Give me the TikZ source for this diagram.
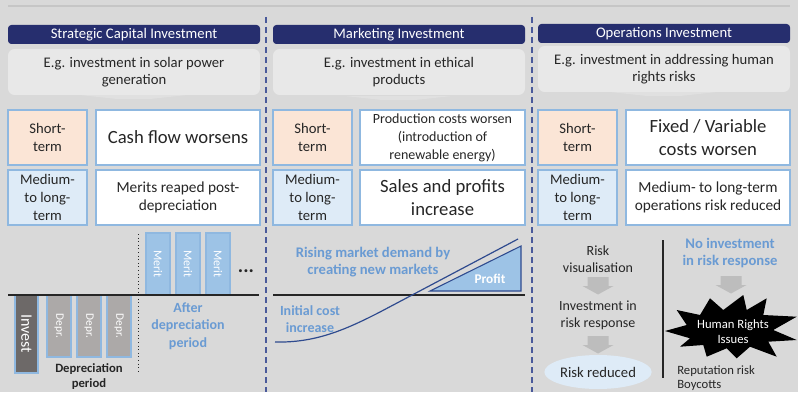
\documentclass[tikz,border=0pt]{standalone}
\usepackage{fontspec}
\setmainfont{Carlito}
\usetikzlibrary{shapes.geometric}
\definecolor{bg}{HTML}{D9D9D9}
\definecolor{navy}{HTML}{262E6E}
\definecolor{egfill}{HTML}{E8E8E8}
\definecolor{peach}{HTML}{FBE5D6}
\definecolor{paleblue}{HTML}{DEEBF7}
\definecolor{edgeblue}{HTML}{8FB8E0}
\definecolor{meritblue}{HTML}{9DC3E6}
\definecolor{labelblue}{HTML}{6A9BD3}
\definecolor{ink}{HTML}{262626}
\definecolor{darkbar}{HTML}{6D6968}
\definecolor{deprgray}{HTML}{ACA9A8}
\definecolor{curveblue}{HTML}{2F4B8F}
\definecolor{sepblue}{HTML}{4A5A9A}
\definecolor{arrowgray}{HTML}{BDBDBD}
\definecolor{rulegray}{HTML}{C6C6C6}
\definecolor{wedge}{HTML}{E0E0E0}
\tikzset{
  sz/.style 2 args={minimum width=#1*0.75pt, minimum height=#2*0.75pt},
  fs/.style 2 args={font=\fontsize{#1}{#2}\selectfont},
  fsb/.style 2 args={font=\fontsize{#1}{#2}\selectfont\bfseries},
  hdr/.style={fill=navy, rounded corners=2.5pt, text=white, fs={11}{12}, inner sep=0pt, outer sep=0pt},
  egbox/.style={fill=egfill, rounded corners=5pt, text=ink, align=center, fs={11}{12.75}, inner sep=0pt},
  termS/.style={fill=peach, draw=edgeblue, line width=1pt, align=center, text=ink, fs={11}{13.2}, inner sep=0pt},
  termM/.style={termS, fill=paleblue},
  effect/.style={fill=white, draw=edgeblue, line width=1pt, align=center, text=ink, inner sep=0pt},
  bar/.style={draw=edgeblue, line width=0.8pt, inner sep=0pt, text=white, rotate=-90},
  bluelabel/.style={text=labelblue, align=center, fsb={10.5}{13}, inner sep=0pt},
  plain/.style={text=ink, align=center, fs={10.5}{13}, inner sep=0pt},
  sep/.style={sepblue, line width=0.9pt, dash pattern=on 4.5pt off 3pt},
  % grey block arrow pointing down, drawn about its centre
  downarrow/.pic={\fill[arrowgray] (-10.5,-9) -- (10.5,-9) -- (10.5,0) -- (15.5,0)
      -- (0,8.5) -- (-15.5,0) -- (-10.5,0) -- cycle;},
}
\begin{document}
\begin{tikzpicture}[x=0.75pt, y=-0.75pt]
\useasboundingbox (0,0) rectangle (798,392);
\fill[bg] (0,0) rectangle (798,392);

% top rule and column separators
\draw[rulegray, line width=1.2pt] (8,6) -- (790,6);
\coordinate (s1t) at (266,17); \coordinate (s1b) at (266,392);
\coordinate (s2t) at (532,17); \coordinate (s2b) at (532,392);
\draw[sep] (s1t) -- (s1b);
\draw[sep] (s2t) -- (s2b);

% faint pointers under the example boxes
\fill[wedge] (80,95) -- (187,95) -- (150,99) -- (117,99) -- cycle;
\fill[wedge] (345,96) -- (452,96) -- (415,100) -- (382,100) -- cycle;
\fill[wedge] (610,92) -- (717,92) -- (680,96) -- (647,96) -- cycle;

% column headers
\node[hdr, sz={252}{19}] (h1) at (134,34.5) {Strategic Capital Investment};
\node[hdr, sz={252}{19}] (h2) at (399,34.5) {Marketing Investment};
\node[hdr, sz={252}{19}] (h3) at (664,33.5) {Operations Investment};

% examples
\node[egbox, sz={252}{46}] (e1) at (134,72) {E.g. investment in solar power\\generation};
\node[egbox, sz={252}{46}] (e2) at (399,72) {E.g. investment in ethical\\products};
\node[egbox, sz={252}{46}] (e3) at (664,69) {E.g. investment in addressing human\\rights risks};

% term tables
\node[termS, sz={79}{55}] (s1) at (47.5,137.5) {Short-\\term};
\node[termM, sz={79}{55}] (m1) at (47.5,197.5) {Medium-\\to long-\\term};
\node[effect, sz={164}{55}, fs={14}{17}] (f1) at (178,137.5) {Cash flow worsens};
\node[effect, sz={164}{55}, fs={11.5}{14}] (g1) at (178,197.5) {Merits reaped post-\\depreciation};

\node[termS, sz={79}{55}] (s2) at (312.5,137.5) {Short-\\term};
\node[termM, sz={79}{55}] (m2) at (312.5,197.5) {Medium-\\to long-\\term};
\node[effect, sz={165}{55}, fs={10.5}{13.5}] (f2) at (442.5,137.5) {Production costs worsen\\(introduction of\\renewable energy)};
\node[effect, sz={165}{55}, fs={14}{17}] (g2) at (442.5,197.5) {Sales and profits\\increase};

\node[termS, sz={79}{55}] (s3) at (577.5,137.5) {Short-\\term};
\node[termM, sz={79}{55}] (m3) at (577.5,197.5) {Medium-\\to long-\\term};
\node[effect, sz={164}{55}, fs={14}{17}] (f3) at (708,137.5) {Fixed / Variable\\costs worsen};
\node[effect, sz={164}{55}, fs={11.5}{13.5}] (g3) at (708,197.5) {Medium- to long-term\\operations risk reduced};

% ---- capital investment: bars around the zero line
\coordinate (z1a) at (8,295); \coordinate (z1b) at (259,295);
\node[bar, fill=darkbar, sz={78}{23}, fs={12}{12}] (inv) at (26.5,334) {Invest};
\node[bar, fill=deprgray, sz={62}{24}, fs={8.5}{9}] (d1) at (59,326) {Depr.};
\node[bar, fill=deprgray, sz={62}{24}, fs={8.5}{9}] (d2) at (89,326) {Depr.};
\node[bar, fill=deprgray, sz={62}{24}, fs={8.5}{9}] (d3) at (119,326) {Depr.};
\node[bar, fill=meritblue, sz={62}{24}, fs={9}{10}] (r1) at (158,264) {Merit};
\node[bar, fill=meritblue, sz={62}{24}, fs={9}{10}] (r2) at (188,264) {Merit};
\node[bar, fill=meritblue, sz={62}{24}, fs={9}{10}] (r3) at (218,264) {Merit};
\node[text=ink, inner sep=0pt, fsb={15}{15}] (dots) at (246,271) {...};
\draw[ink, line width=1.1pt] (z1a) -- (z1b);
\coordinate (dt) at (138,234); \coordinate (db) at (138,373);
\draw[ink, line width=0.7pt, dotted] (dt) -- (db);
\node[text=ink, align=center, inner sep=0pt, fsb={9.5}{11.25}] (dp) at (89,377) {Depreciation\\period};
\node[bluelabel] (adp) at (188,326) {After\\depreciation\\period};

% ---- marketing investment: cost curve and profit wedge
\coordinate (z2a) at (273,295); \coordinate (z2b) at (525,295);
\fill[meritblue] (430,291) -- (521,246) -- (521,291) -- cycle;
\draw[curveblue, line width=0.8pt] (430,291) -- (521,246) -- (521,291) -- cycle;
\node[text=white, inner sep=0pt, fsb={10}{12}] (pf) at (490,279) {Profit};
\draw[ink, line width=1.1pt] (z2a) -- (z2b);
\coordinate (c0) at (275,342); \coordinate (c1) at (380,312); \coordinate (c2) at (518,239);
\draw[curveblue, line width=0.9pt] (c0) .. controls (315,343) and (345,330) .. (c1) -- (c2);
\node[bluelabel, fsb={11}{13}] (rm) at (373,262) {Rising market demand by\\creating new markets};
\node[bluelabel] (ic) at (310,319) {Initial cost\\increase};

% ---- operations investment: two scenarios
\coordinate (vt) at (663,240); \coordinate (vb) at (663,378);
\draw[ink, line width=0.8pt] (vt) -- (vb);
\node[plain] (rv) at (598,259.5) {Risk\\visualisation};
\pic (a1) at (598,286) {downarrow};
\node[plain] (ir) at (598,315.5) {Investment in\\risk response};
\pic (a2) at (598,345) {downarrow};
\node[ellipse, fill=paleblue, sz={100}{34}, plain, fs={11}{13}] (rr) at (598,372) {Risk reduced};

\node[bluelabel, fsb={11}{13}] (ni) at (730,253) {No investment\\in risk response};
\pic (a3) at (731,285) {downarrow};
\fill[black] (665,331) -- (686.7,325) -- (676.7,310) -- (700,315) -- (710,298.3)
  -- (723.3,310) -- (743.3,295) -- (746.7,310) -- (766.7,298.3) -- (763.3,315)
  -- (796.7,316.7) -- (773.3,330) -- (796.7,340) -- (768.3,341.7) -- (776.7,356.7)
  -- (750,346.7) -- (736.7,358.3) -- (726.7,348.3) -- (706.7,356.7) -- (703.3,345)
  -- (680,346.7) -- (690,338.3) -- cycle;
\node[text=white, align=center, inner sep=0pt, fs={9.5}{11.25}] (hr) at (733,331.5) {Human Rights\\Issues};
\node[text=ink, align=left, anchor=west, inner sep=0pt, fs={9.5}{10.5}] (rp) at (677,378) {Reputation risk\\Boycotts};
\end{tikzpicture}
\end{document}
